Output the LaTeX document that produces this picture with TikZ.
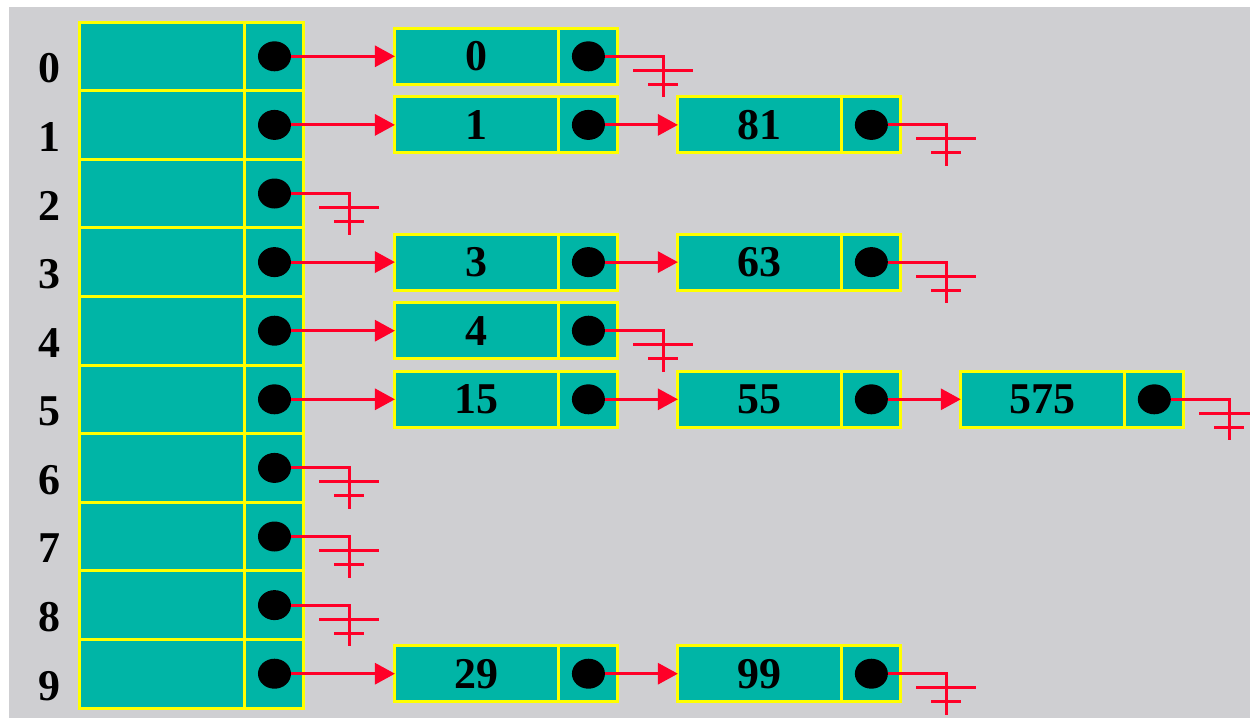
\documentclass[tikz,border=0pt]{standalone}
\usepackage{fontspec}
\setmainfont{Liberation Serif}
\usetikzlibrary{positioning, shapes.geometric, arrows.meta}
\definecolor{bggray}{RGB}{207,207,210}
\definecolor{cellteal}{RGB}{0,181,166}
\definecolor{cellyellow}{RGB}{255,255,0}
\definecolor{linkred}{RGB}{255,0,40}

\begin{document}
\begin{tikzpicture}[x=0.02cm, y=-0.02cm,
        cell/.style={draw=cellyellow, fill=cellteal, line width=0.06cm, rectangle, outer sep=0pt, inner sep=0pt, font=\fontsize{25}{30}\selectfont\bfseries},
        keycell/.style={cell, minimum width=3.32cm, minimum height=1.372cm},
        ptrcell/.style={cell, minimum width=1.18cm, minimum height=1.372cm},
        valcell/.style={cell, minimum width=3.28cm, minimum height=1.12cm},
        nxtcell/.style={cell, minimum width=1.18cm, minimum height=1.12cm},
        dot/.style={ellipse, fill=black, minimum width=0.66cm, minimum height=0.6cm, inner sep=0pt},
        index/.style={font=\fontsize{25}{30}\selectfont\bfseries},
        link/.style={draw=linkred, line width=0.06cm},
        arrow/.style={link, -{Triangle[length=0.4cm, width=0.42cm]}}
    ]
    \useasboundingbox (0,0) rectangle (1250,718);
    \fill[bggray] (9,7) rectangle (1250,718);

    % hash table
    \foreach \i in {0,...,9} {
        \node[keycell] (key\i) at (162, {56.3+68.6*\i}) {};
        \node[ptrcell, right=0pt of key\i] (ptr\i) {};
        \node[dot] (pdot\i) at (ptr\i) {};
        \node[index] (idx\i) at (49, {68.3+68.6*\i}) {\i};
    }

    % chained entries
    \foreach \v/\prev/\gap in {0/ptr0/1.82cm, 1/ptr1/1.82cm, 81/nxt1/1.2cm, 3/ptr3/1.82cm, 63/nxt3/1.2cm,
            4/ptr4/1.82cm, 15/ptr5/1.82cm, 55/nxt15/1.2cm, 575/nxt55/1.2cm, 29/ptr9/1.82cm, 99/nxt29/1.2cm} {
        \node[valcell, right=\gap of \prev] (val\v) {\v};
        \node[nxtcell, right=0pt of val\v] (nxt\v) {};
        \node[dot] (ndot\v) at (nxt\v) {};
    }

    \foreach \a/\b in {pdot0/val0, pdot1/val1, ndot1/val81, pdot3/val3, ndot3/val63, pdot4/val4,
            pdot5/val15, ndot15/val55, ndot55/val575, pdot9/val29, ndot29/val99}
        \draw[arrow] (\a) -- (\b);

    % null pointers
    \foreach \d in {pdot2, pdot6, pdot7, pdot8, ndot0, ndot81, ndot63, ndot4, ndot575, ndot99} {
        \draw[link] (\d) -- ++(75,0) coordinate (\d-end) -- ++(0,41);
        \draw[link] ([shift={(-30,14)}]\d-end) -- ++(60,0);
        \draw[link] ([shift={(-15,28)}]\d-end) -- ++(30,0);
    }
\end{tikzpicture}
\end{document}
